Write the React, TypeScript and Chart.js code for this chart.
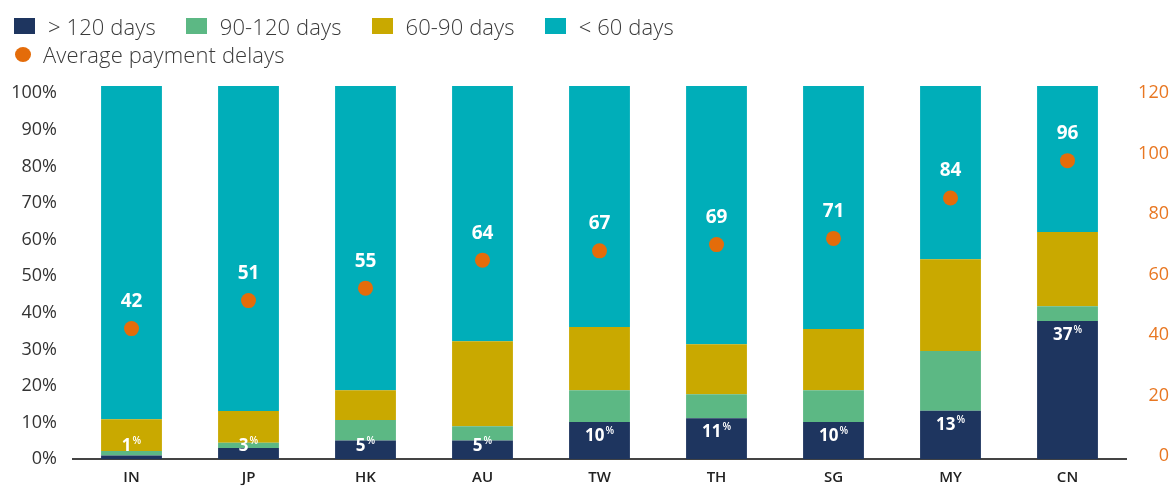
import React, { useEffect, useRef } from "react";
import { Chart, registerables } from "chart.js";

Chart.register(...registerables);

const categories = ["IN", "JP", "HK", "AU", "TW", "TH", "SG", "MY", "CN"];
const over120 = [1, 3, 5, 5, 10, 11, 10, 13, 37];
const d90to120 = [1.2, 1.4, 5.5, 3.8, 8.5, 6.4, 8.5, 16, 4];
const d60to90 = [8.5, 8.5, 8, 22.8, 16.9, 13.4, 16.4, 24.6, 19.9];
const under60 = [89.3, 87.1, 81.5, 68.4, 64.6, 69.2, 65.1, 46.4, 39.1];
const avgDelays = [42, 51, 55, 64, 67, 69, 71, 84, 96];

const leftTicks = [0, 10, 20, 30, 40, 50, 60, 70, 80, 90, 100];
const rightTicks = [0, 20, 40, 60, 80, 100, 120];

const seriesLabels = ["> 120 days", "90-120 days", "60-90 days", "< 60 days"];
const avgLabel = "Average payment delays";
const colors = ["#1e355f", "#5cb884", "#c9a900", "#00aeb9"];
const orange = "#e46c0a";

const FONT = "'Open Sans', sans-serif";

const labelPlugin = {
  id: "valueLabels",
  afterDatasetsDraw(chart: any) {
    const ctx = chart.ctx;
    const x = chart.scales.x;
    const y = chart.scales.y;
    const y1 = chart.scales.y1;
    ctx.save();
    ctx.fillStyle = "#ffffff";
    ctx.textBaseline = "middle";
    categories.forEach((_, i) => {
      const cx = x.getPixelForValue(i);
      const dy = y1.getPixelForValue(avgDelays[i]);
      ctx.font = `700 19px ${FONT}`;
      ctx.textAlign = "center";
      ctx.fillText(String(avgDelays[i]), cx, dy - 27);
      const top = y.getPixelForValue(over120[i]);
      const base = y.getPixelForValue(0);
      const ly = Math.min(top + 14, base - 13);
      const main = String(over120[i]);
      ctx.font = `700 17px ${FONT}`;
      const w1 = ctx.measureText(main).width;
      ctx.font = `600 10px ${FONT}`;
      const w2 = ctx.measureText("%").width;
      const start = cx - (w1 + w2 + 1) / 2;
      ctx.textAlign = "left";
      ctx.font = `700 17px ${FONT}`;
      ctx.fillText(main, start, ly);
      ctx.font = `600 10px ${FONT}`;
      ctx.fillText("%", start + w1 + 1, ly - 5);
    });
    ctx.restore();
  },
};

export default function App() {
  const ref = useRef<HTMLCanvasElement | null>(null);

  useEffect(() => {
    document.body.style.margin = "0";
    if (!ref.current) return;
    const chart = new Chart(ref.current, {
      type: "bar",
      data: {
        labels: categories,
        datasets: [
          {
            type: "line",
            label: avgLabel,
            data: avgDelays,
            yAxisID: "y1",
            showLine: false,
            pointRadius: 7.5,
            pointHoverRadius: 7.5,
            pointBackgroundColor: orange,
            pointBorderWidth: 0,
            borderColor: orange,
            backgroundColor: orange,
            order: 0,
          } as any,
          ...[over120, d90to120, d60to90, under60].map((d, k) => ({
            type: "bar" as const,
            label: seriesLabels[k],
            data: d,
            backgroundColor: colors[k],
            yAxisID: "y",
            stack: "s",
            barPercentage: 0.52,
            categoryPercentage: 1,
            borderWidth: 0,
            order: 1,
          })),
        ],
      },
      options: {
        responsive: false,
        animation: false,
        layout: { padding: { top: 86, left: 0, right: 0, bottom: 0 } },
        plugins: {
          legend: { display: false },
          tooltip: { enabled: false },
          title: { display: false },
        },
        scales: {
          x: {
            stacked: true,
            grid: { display: false, drawTicks: false },
            border: { display: true, color: "#444444", width: 2 },
            ticks: {
              color: "#222222",
              font: { family: FONT, size: 15, weight: "600" },
              padding: 10,
            },
            afterFit: (s: any) => {
              s.height = 26;
            },
          },
          y: {
            stacked: true,
            display: false,
            min: 0,
            max: 100,
          },
          y1: {
            display: false,
            min: 0,
            max: 120,
          },
          yLeft: {
            position: "left",
            min: 0,
            max: 102,
            grid: { display: false, drawTicks: false },
            border: { display: false },
            afterBuildTicks: (s: any) => {
              s.ticks = leftTicks.map((v) => ({ value: v }));
            },
            ticks: {
              color: "#333333",
              font: { family: FONT, size: 18, weight: "400" },
              padding: 16,
              callback: (v: any) => v + "%",
            },
            afterFit: (s: any) => {
              s.width = 73;
            },
          },
          yRight: {
            position: "right",
            min: -1.1,
            max: 122.4,
            grid: { display: false, drawTicks: false },
            border: { display: false },
            afterBuildTicks: (s: any) => {
              s.ticks = rightTicks.map((v) => ({ value: v }));
            },
            ticks: {
              color: "#e87722",
              font: { family: FONT, size: 18, weight: "400" },
              padding: 6,
              crossAlign: "far",
            },
            afterFit: (s: any) => {
              s.width = 43;
            },
          },
        },
      } as any,
      plugins: [labelPlugin],
    });
    return () => chart.destroy();
  }, []);

  const legendText: React.CSSProperties = {
    fontFamily: FONT,
    fontSize: 22,
    letterSpacing: 0.1,
    color: "#3a3a3a",
    fontWeight: 300,
    whiteSpace: "nowrap",
    lineHeight: "24px",
  };

  return (
    <div style={{ position: "relative", width: 1169, height: 486 }}>
      <canvas
        ref={ref}
        width={1169}
        height={486}
        style={{ position: "absolute", left: 0, top: 0 }}
      />
      <div
        style={{
          position: "absolute",
          left: 14,
          top: 14,
          display: "flex",
          alignItems: "center",
          height: 24,
        }}
      >
        {seriesLabels.map((l, k) => (
          <div
            key={l}
            style={{ display: "flex", alignItems: "center", marginRight: 30 }}
          >
            <span
              style={{
                width: 21,
                height: 16,
                background: colors[k],
                display: "inline-block",
                marginRight: 13,
              }}
            />
            <span style={legendText}>{l}</span>
          </div>
        ))}
      </div>
      <div
        style={{
          position: "absolute",
          left: 15,
          top: 42,
          display: "flex",
          alignItems: "center",
          height: 24,
        }}
      >
        <span
          style={{
            width: 16,
            height: 15,
            borderRadius: "50%",
            background: orange,
            display: "inline-block",
            marginRight: 12,
          }}
        />
        <span style={legendText}>{avgLabel}</span>
      </div>
    </div>
  );
}
